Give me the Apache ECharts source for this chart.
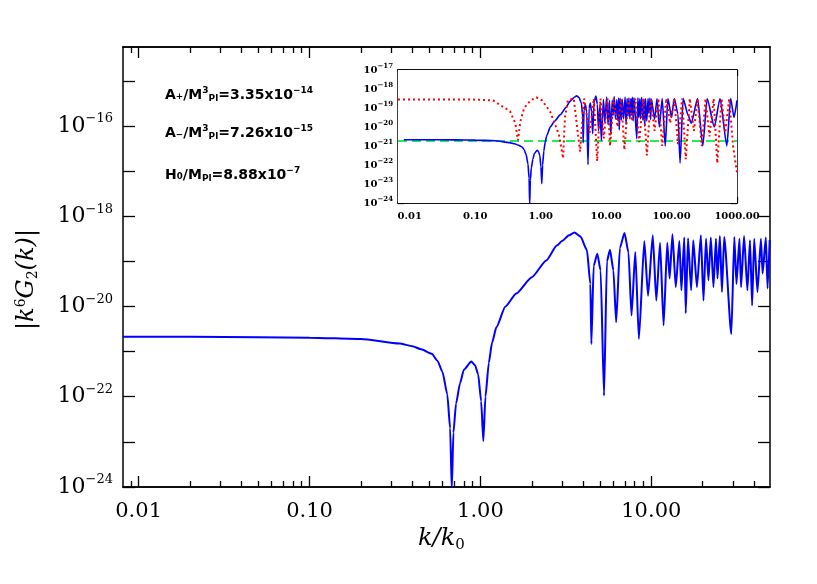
<!DOCTYPE html>
<html><head><meta charset="utf-8">
<script src="https://cdn.jsdelivr.net/npm/echarts@6/dist/echarts.min.js"></script>
<style>body{margin:0;background:#fff}#c{width:817px;height:584px}</style>
</head><body><div id="c"></div>
<script>
// blue curve |k^6 G2(k)|: k and log10 value
const blueK = [0.0081,0.02,0.05,0.1,0.2,0.336,0.4,0.45,0.52,0.56,0.6,0.64,0.665,0.68,0.695,0.72,0.76,0.8,0.885,0.93,0.97,1.01,1.04,1.07,1.12,1.17,1.24,1.4,1.62,2.0,2.43,2.8,3.0,3.3,3.55,3.85,4.2,4.4,4.46,4.6,4.83,5.05,5.29,5.5,5.73,6.0,6.23,6.55,6.97,7.35,7.66,8.06,8.46,9.1,9.57,10.2,10.7,11.25,11.8,12.4,12.8,13.3,13.9,14.6,15.0,15.6,15.9,16.4,17.1,17.6,18.5,19.5,20.2,20.9,21.6,22.3,23.1,23.9,24.4,25.2,25.9,26.7,29.4,30.6,31.5,32.8,33.5,34.9,36.5,37.8,38.9,40.0,41.8,43.8,44.8,46.8,47.9,49.3];
const blueLog = [-20.67,-20.67,-20.68,-20.69,-20.72,-20.82,-20.88,-20.95,-21.05,-21.2,-21.45,-21.95,-22.7,-24.05,-22.8,-22.15,-21.7,-21.4,-21.22,-21.3,-21.5,-22.1,-22.98,-22.0,-21.25,-20.8,-20.46,-20.0,-19.71,-19.35,-18.98,-18.65,-18.55,-18.42,-18.36,-18.45,-18.75,-19.5,-20.83,-19.1,-18.83,-19.2,-21.98,-19.0,-18.74,-19.2,-20.35,-18.7,-18.37,-18.8,-20.2,-18.79,-20.72,-18.55,-19.76,-18.42,-19.87,-18.59,-20.42,-18.59,-19.38,-18.4,-19.57,-18.55,-19.64,-18.47,-20.15,-18.49,-19.64,-18.53,-19.57,-18.42,-19.87,-18.5,-19.42,-18.47,-19.57,-18.5,-19.38,-18.44,-19.68,-18.46,-20.61,-18.46,-19.5,-18.5,-19.57,-18.44,-19.64,-18.53,-19.98,-18.5,-19.68,-18.5,-19.27,-18.47,-19.6,-18.53];
// inset-only continuation of the blue curve
const blueKExt = [55,60,65,72,80,88,100,110,125,135,150,180,200,250,300,350,450,550,700,800,900,1000];
const blueLogExt = [-19.6,-18.5,-20.0,-18.5,-21.0,-18.5,-19.5,-18.5,-19.3,-21.9,-18.5,-19.4,-19.8,-18.5,-21.0,-18.5,-20.0,-18.5,-21.0,-18.5,-19.5,-18.6];
// red dotted curve (inset)
const redK = [0.0066,0.05,0.1,0.187,0.34,0.41,0.45,0.49,0.56,0.7,0.86,1.05,1.4,1.9,2.2,2.35,2.6,3.2,4.0,4.6,5.6,6.5,7.3,8.2,9.2,10.5,11.5,13,15,17,19,22,25,28,32,37,42,48,55,63,72,83,95,110,125,145,165,190,220,250,290,330,380,440,500,580,660,760,870,1000];
const redLog = [-18.55,-18.55,-18.56,-18.6,-19.17,-19.8,-20.7,-19.7,-19.0,-18.6,-18.44,-18.6,-19.2,-20.4,-21.65,-19.5,-18.6,-18.5,-21.3,-18.5,-20.3,-18.5,-21.8,-18.5,-20.6,-18.5,-21.0,-18.5,-20.0,-18.5,-21.2,-18.5,-19.7,-18.5,-20.8,-18.5,-21.5,-18.5,-20.2,-18.5,-21.0,-18.5,-19.8,-18.5,-20.9,-18.5,-21.7,-18.5,-20.2,-18.5,-21.0,-18.5,-20.5,-18.5,-21.9,-18.5,-20.3,-18.5,-21.0,-22.4];
// green dashed constant (inset)
const greenK = [0.0066,1000];
const greenLog = [-20.74,-20.74];
const mainXTicks = [-2,-1,0,1];
const mainYTicks = [-24,-23,-22,-21,-20,-19,-18,-17,-16,-15];
const mainYLabels = [-24,-22,-20,-18,-16];
const insetXTicks = [-2,-1,0,1,2,3];
const insetYTicks = [-24,-23,-22,-21,-20,-19,-18,-17];

const L = Math.log10;
const pts = (ks, ls) => ks.map((k,i)=>[L(k), ls[i]]);
function minorTicks(lo, hi){const r=[];for(let e=Math.floor(lo);e<=hi;e++)for(let m=2;m<=9;m++){const v=e+L(m);if(v>lo&&v<hi)r.push(v);}return r;}
const xFmt = v => Math.pow(10, Math.round(v)).toFixed(2);
const yFmt = v => '{b|10}{s|' + String(v).replace('-','\u2212') + '}';

function axis(kind, g, min, max, pos, ticks, labels, len, fmt, rich){
  const a = {type:'value', gridIndex:g, min, max, position:pos, splitLine:{show:false},
    axisLine:{show:true, onZero:false, lineStyle:{color:'#000', width:1.5}},
    axisTick:{show:true, inside:true, length:len, customValues:ticks, lineStyle:{color:'#000', width:1.3}},
    axisLabel:{show:!!labels, customValues:labels||[], formatter:fmt, color:'#000', rich}};
  return Object.assign(a, kind);
}
const mRichY = {b:{fontFamily:'DejaVu Serif', fontSize:22, color:'#000'}, s:{fontFamily:'DejaVu Serif', fontSize:13, color:'#000', padding:[0,0,14,0]}};
const iRichY = {b:{fontFamily:'DejaVu Serif', fontSize:10, fontWeight:'bold', color:'#000'}, s:{fontFamily:'DejaVu Serif', fontSize:7, fontWeight:'bold', color:'#000', padding:[0,0,7,0]}};

const mxMin=L(0.0081), mxMax=L(49.5), myMin=-24, myMax=-14.25;
const ixMin=-2.18, ixMax=3, iyMin=-24, iyMax=-17;
const xl = {fontFamily:'DejaVu Serif', fontSize:21, margin:14};
const ixl = {fontFamily:'DejaVu Serif', fontSize:10, fontWeight:'bold', margin:8};

const xAxes = [
  axis({axisLabel:Object.assign({show:true, customValues:mainXTicks, formatter:xFmt, color:'#000'}, xl)},0,mxMin,mxMax,'bottom',mainXTicks,mainXTicks,11,xFmt),
  axis({},0,mxMin,mxMax,'bottom',minorTicks(mxMin,mxMax),null,6),
  axis({},0,mxMin,mxMax,'top',mainXTicks,null,11),
  axis({},0,mxMin,mxMax,'top',minorTicks(mxMin,mxMax),null,6),
  axis({axisLabel:Object.assign({show:true, customValues:insetXTicks, formatter:xFmt, color:'#000'}, ixl)},1,ixMin,ixMax,'bottom',insetXTicks,insetXTicks,6,xFmt),
  axis({},1,ixMin,ixMax,'bottom',minorTicks(ixMin,ixMax),null,3),
  axis({},1,ixMin,ixMax,'top',insetXTicks,null,6),
  axis({},1,ixMin,ixMax,'top',minorTicks(ixMin,ixMax),null,3)
];
const yAxes = [
  axis({},0,myMin,myMax,'left',mainYTicks,mainYLabels,12,yFmt,mRichY),
  axis({},0,myMin,myMax,'right',mainYTicks,null,12),
  axis({},1,iyMin,iyMax,'left',insetYTicks,insetYTicks,6,yFmt,iRichY),
  axis({},1,iyMin,iyMax,'right',insetYTicks,null,6)
];
yAxes[0].axisLabel.margin = 10;
yAxes[2].axisLabel.margin = 5;

const t = (txt, y) => ({type:'text', left:165, top:y, z:10, style:{text:txt, fill:'#000', rich:{
  n:{fontFamily:'DejaVu Sans', fontSize:14, fontWeight:'bold'},
  u:{fontFamily:'DejaVu Sans', fontSize:9, fontWeight:'bold', padding:[0,0,9,0]},
  d:{fontFamily:'DejaVu Sans', fontSize:9, fontWeight:'bold', padding:[8,0,0,0]}}}});

const chart = echarts.init(document.getElementById('c'));
chart.setOption({
  animation:false, backgroundColor:'#fff',
  grid:[{left:123, right:47, top:47, bottom:97},
        {left:398, right:80, top:70, bottom:381, show:true, backgroundColor:'#fff', borderWidth:0, z:5}],
  xAxis:xAxes, yAxis:yAxes,
  series:[
    {type:'line', xAxisIndex:0, yAxisIndex:0, data:pts(blueK, blueLog), showSymbol:false, smooth:0.2, smoothMonotone:'x', lineStyle:{color:'#0000ff', width:2}, z:2},
    {type:'line', xAxisIndex:4, yAxisIndex:2, data:pts(greenK, greenLog), showSymbol:false, lineStyle:{color:'#22ee55', width:2, type:[9,5]}, z:6},
    {type:'line', xAxisIndex:4, yAxisIndex:2, data:pts(blueK.concat(blueKExt), blueLog.concat(blueLogExt)), showSymbol:false, smooth:0.2, smoothMonotone:'x', lineStyle:{color:'#0000ff', width:1.6}, z:7},
    {type:'line', xAxisIndex:4, yAxisIndex:2, data:pts(redK, redLog), showSymbol:false, lineStyle:{color:'#ff0000', width:2, type:[2,3]}, z:8}
  ],
  graphic:[
    t('{n|A₊/M}{u|3}{d|Pl}{n|=3.35x10}{u|−14}', 86),
    t('{n|A₋/M}{u|3}{d|Pl}{n|=7.26x10}{u|−15}', 124),
    t('{n|H₀/M}{d|Pl}{n|=8.88x10}{u|−7}', 166),
    {type:'text', left:418, top:527, style:{text:'{i|k/k}{s|0}', rich:{
      i:{fontFamily:'DejaVu Serif', fontStyle:'italic', fontSize:24, fill:'#000'},
      s:{fontFamily:'DejaVu Serif', fontSize:15, fill:'#000', padding:[12,0,0,0]}}}},
    {type:'text', x:14, y:330, rotation:Math.PI/2, style:{text:'{i||k}{u|6}{i|G}{d|2}{i|(k)|}', rich:{
      i:{fontFamily:'DejaVu Serif', fontStyle:'italic', fontSize:24, fill:'#000'},
      u:{fontFamily:'DejaVu Serif', fontSize:14, fill:'#000', padding:[0,0,12,0]},
      d:{fontFamily:'DejaVu Serif', fontSize:14, fill:'#000', padding:[12,0,0,0]}}}}
  ]
});
</script></body></html>
